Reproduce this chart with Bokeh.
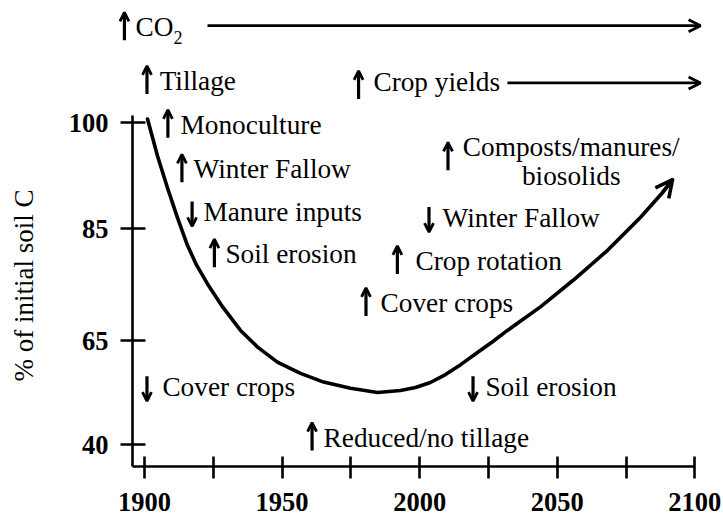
import numpy as np
from bokeh.plotting import figure
from bokeh.models import Arrow, OpenHead, FixedTicker, Range1d, ColumnDataSource, LinearAxis
from bokeh.core.properties import value
from bokeh.embed import file_html
from bokeh.resources import INLINE

# ---- data ----
years = [1901.1, 1904.7, 1908.4, 1912.0, 1915.6, 1918.9, 1922.9, 1928.4, 1934.9,
         1941.1, 1948.3, 1956.7, 1965.1, 1974.9, 1984.7, 1993.0, 1998.5, 2003.9,
         2009.4, 2014.9, 2021.0, 2026.5, 2031.9, 2043.9, 2055.9, 2068.3, 2080.3,
         2088.3, 2091.9]
soil_c = [100.5, 95.3, 90.7, 86.5, 82.0, 78.5, 75.1, 71.0, 66.8,
          63.4, 59.8, 57.1, 55.0, 53.5, 52.5, 53.0, 53.7, 54.9,
          56.8, 59.2, 62.1, 64.7, 66.8, 71.0, 75.8, 81.1, 86.6,
          90.1, 91.9]

x_ticks = [1900, 1925, 1950, 1975, 2000, 2025, 2050, 2075, 2100]
x_labeled = [1900, 1950, 2000, 2050, 2100]
y_tick_labels = [40, 65, 85, 100]
y_title = "% of initial soil C"

ann_text = ["CO", "Tillage", "Crop yields", "Monoculture", "Winter Fallow",
            "Manure inputs", "Soil erosion", "Cover crops", "Reduced/no tillage",
            "Soil erosion", "Cover crops", "Crop rotation", "Winter Fallow"]
ann_dir = ["up", "up", "up", "up", "up", "down", "up", "down", "up",
           "down", "up", "up", "down"]
ann_year = [1896.7, 1905.5, 1983.2, 1913.1, 1917.8, 1921.4, 1929.4, 1906.5, 1965.1,
            2023.9, 1985.8, 1998.5, 2008.3]
ann_level = [112.2, 104.6, 104.4, 98.4, 92.1, 86.0, 78.8, 51.6, 39.5,
             51.6, 70.1, 77.6, 85.2]
arrow_year = [1892.7, 1900.9, 1977.8, 1908.5, 1913.6, 1917.3, 1925.4, 1900.9, 1960.9,
              2019.4, 1980.5, 1991.9, 2003.4]
arrow_level = [112.2, 104.6, 103.9, 98.4, 92.1, 86.0, 78.8, 51.6, 39.5,
               51.6, 70.1, 77.6, 85.2]

co2_sub = "2"
co2_sub_year = 1910.5
co2_sub_level = 111.2

compost_lines = ["Composts/manures/", "biosolids"]
compost_year = 2055.1
compost_levels = [95.3, 91.1]
compost_arrow_year = 2010.3
compost_arrow_level = 93.8

trend_start = [1922.9, 2031.9]
trend_end = [2102.1, 2102.1]
trend_level = [113.7, 105.6]

# ---- non-linear vertical scale (ticks evenly spaced in the original) ----
tick_pos = [0, 104, 216, 322]


def to_v(p):
    p = np.asarray(p, dtype=float)
    hi = tick_pos[3] + (p - 100) * (tick_pos[3] - tick_pos[2]) / 15.0
    lo = (p - 40) * (tick_pos[1] - tick_pos[0]) / 25.0
    mid = np.interp(p, y_tick_labels, tick_pos)
    return np.where(p > 100, hi, np.where(p < 40, lo, mid))


SERIF = "Liberation Serif"
TXT = "27.3px"
TXT_SHIFT = -9    # screen px, lifts the text onto its baseline
X0 = 1895.64      # where the vertical axis sits
V0 = -22          # where the horizontal axis sits

p = figure(width=723, height=517, output_backend="svg", toolbar_location=None,
           x_range=Range1d(1847.665, 2110.43), y_range=Range1d(-73, 444),
           x_axis_type=None, y_axis_type=None,
           min_border_left=0, min_border_right=0, min_border_top=0, min_border_bottom=0)
p.outline_line_color = None
p.background_fill_color = "white"
p.border_fill_color = "white"

# axes, pinned at their place inside the frame
xa = LinearAxis(fixed_location=V0, ticker=FixedTicker(ticks=x_ticks),
                bounds=(X0, 2100))
xa.major_label_overrides = {t: (str(t) if t in x_labeled else "") for t in x_ticks}
ya = LinearAxis(fixed_location=X0, ticker=FixedTicker(ticks=tick_pos),
                bounds=(V0, 329))
ya.major_label_overrides = {tp: str(lab) for tp, lab in zip(tick_pos, y_tick_labels)}
for ax in (xa, ya):
    ax.axis_line_color = "black"
    ax.axis_line_width = 2.6
    ax.major_tick_line_color = "black"
    ax.major_tick_line_width = 2.6
    ax.minor_tick_line_color = None
    ax.major_label_text_font = SERIF
    ax.major_label_text_font_style = "bold"
    ax.major_label_text_font_size = "26.5px"
    ax.major_label_text_color = "black"
xa.major_tick_in = 10
xa.major_tick_out = 12
xa.major_label_standoff = 14
ya.major_tick_in = 13
ya.major_tick_out = 12
ya.major_label_standoff = 12
p.add_layout(xa, "below")
p.add_layout(ya, "left")

# y-axis title
p.text(x=[1856.03], y=[159], text=[y_title], angle=np.pi / 2,
       text_font=value(SERIF), text_font_size=value("27px"), text_color="black",
       text_align="center", text_baseline="middle")

# curve
v = to_v(soil_c)
p.line(years, v, line_color="black", line_width=3.6, line_cap="round", line_join="round")
p.add_layout(Arrow(end=OpenHead(size=17, line_width=3.6, line_color="black"),
                   x_start=years[-2], y_start=float(v[-2]), x_end=years[-1], y_end=float(v[-1]),
                   line_color="black", line_width=3.6))

# trend arrows
for xs, xe, lv in zip(trend_start, trend_end, trend_level):
    yv = float(to_v(lv))
    p.add_layout(Arrow(end=OpenHead(size=12, line_width=2.8, line_color="black"),
                       x_start=xs, y_start=yv, x_end=xe, y_end=yv,
                       line_color="black", line_width=2.8))

# up / down arrows in front of the labels
for ax_year, lv, d in zip(arrow_year + [compost_arrow_year],
                          list(arrow_level) + [compost_arrow_level],
                          ann_dir + ["up"]):
    b = float(to_v(lv))
    if d == "up":
        y0, y1 = b - 4, b + 24
    else:
        y0, y1 = b + 20, b - 5
    p.add_layout(Arrow(end=OpenHead(size=9, line_width=2.8, line_color="black"),
                       x_start=ax_year, y_start=y0, x_end=ax_year, y_end=y1,
                       line_color="black", line_width=3.2))

# annotation texts
src = ColumnDataSource(dict(x=ann_year, y=to_v(ann_level), t=ann_text))
p.text(x="x", y="y", text="t", source=src, text_font=value(SERIF),
       text_font_size=value(TXT), text_color="black", y_offset=TXT_SHIFT,
       text_align="left", text_baseline="alphabetic")
csrc = ColumnDataSource(dict(x=[compost_year] * 2, y=to_v(compost_levels), t=compost_lines))
p.text(x="x", y="y", text="t", source=csrc, text_font=value(SERIF),
       text_font_size=value(TXT), text_color="black", y_offset=TXT_SHIFT,
       text_align="center", text_baseline="alphabetic")
p.text(x=[co2_sub_year], y=[float(to_v(co2_sub_level))], text=[co2_sub],
       text_font=value(SERIF), text_font_size=value("18px"), text_color="black",
       y_offset=-6, text_align="left", text_baseline="alphabetic")

open("out.html", "w").write(file_html(p, INLINE))
